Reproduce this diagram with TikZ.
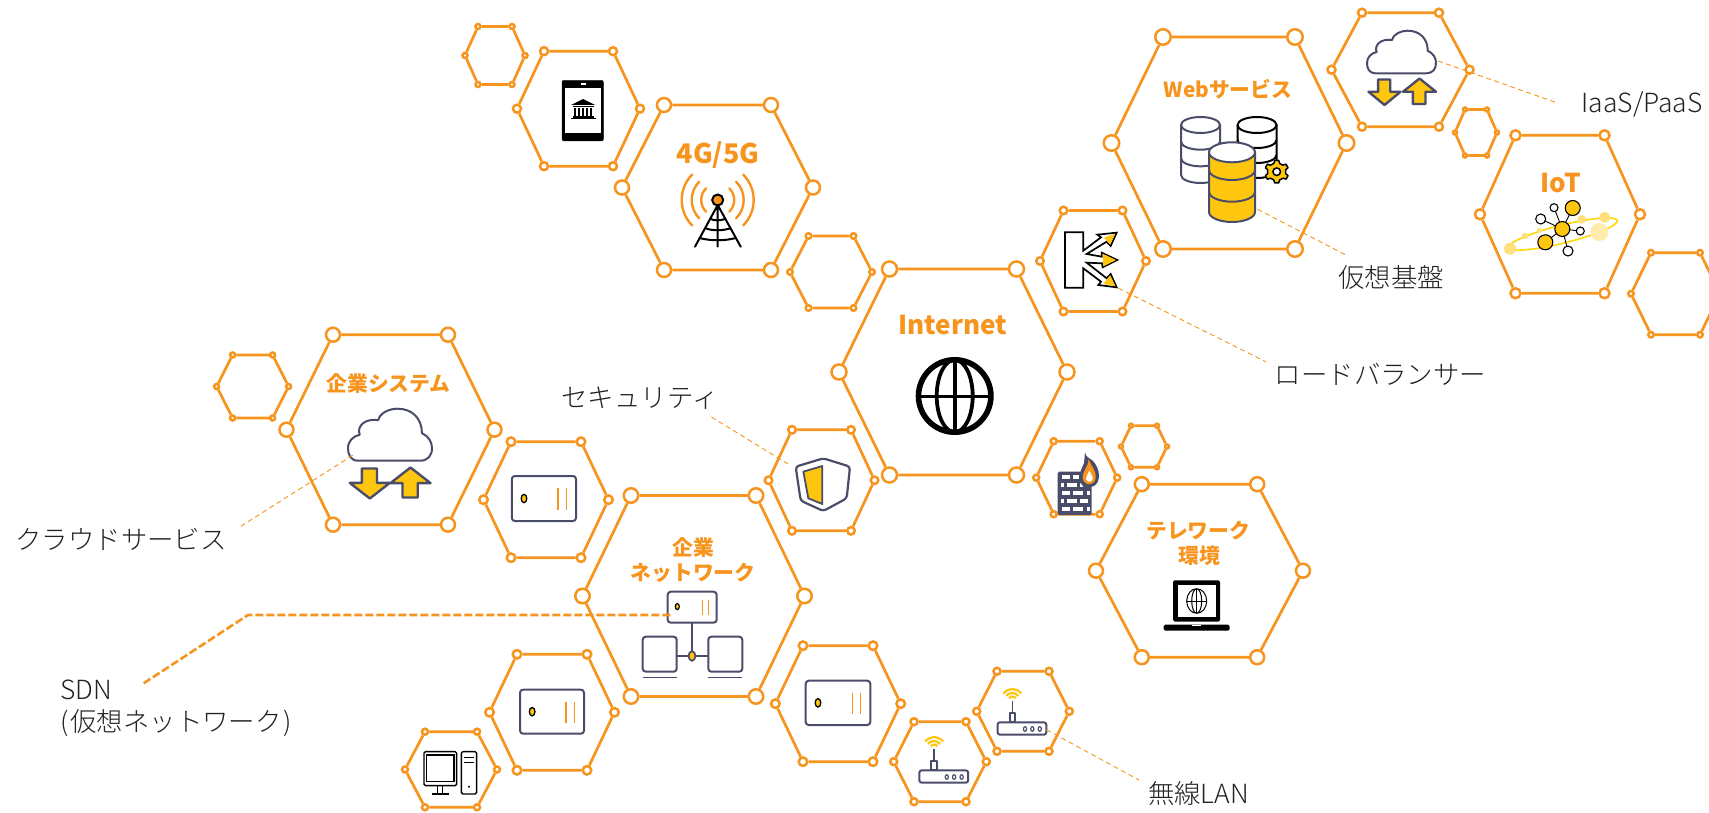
\documentclass[tikz,border=0pt]{standalone}
\usepackage{fontspec}
\setmainfont{Noto Sans CJK JP}
\newfontfamily\jplight{Noto Sans CJK JP Light}
\definecolor{hexor}{HTML}{F7941E}
\definecolor{slateb}{HTML}{4A4D69}
\definecolor{yel}{HTML}{FFC60F}
\definecolor{txtk}{HTML}{222222}
\tikzset{
  hv/.style={circle,draw=hexor,fill=white,line width=2.5pt,inner sep=0pt},
  hedge/.style={draw=hexor,line width=2.7pt},
  lead/.style={draw=hexor,line width=.9pt,dash pattern=on 5pt off 3.5pt},
  leadthick/.style={draw=hexor,line width=2.6pt,dash pattern=on 8pt off 3pt},
  lab/.style={text=txtk,inner sep=0pt,font=\jplight\fontsize{26.4}{31}\selectfont},
  head/.style={text=hexor,inner sep=0pt,align=center,font=\bfseries\fontsize{20.8}{26}\selectfont},
  headb/.style={text=hexor,inner sep=0pt,font=\bfseries\fontsize{26}{30}\selectfont},
  zoomed/.style={x=.33333pt,y=-.33333pt},
  sl/.style={draw=slateb,line width=2pt,line join=round},
}
% id, cx, cy, half width, half top, half height, vertex diameter
\newcommand\hexa[7]{%
  \node[hv,minimum size=#7pt] (#1a) at ({#2-#4},#3) {};
  \node[hv,minimum size=#7pt] (#1b) at ({#2-#5},{#3-#6}) {};
  \node[hv,minimum size=#7pt] (#1c) at ({#2+#5},{#3-#6}) {};
  \node[hv,minimum size=#7pt] (#1d) at ({#2+#4},#3) {};
  \node[hv,minimum size=#7pt] (#1e) at ({#2+#5},{#3+#6}) {};
  \node[hv,minimum size=#7pt] (#1f) at ({#2-#5},{#3+#6}) {};
  \draw[hedge] (#1a)--(#1b) (#1b)--(#1c) (#1c)--(#1d) (#1d)--(#1e) (#1e)--(#1f) (#1f)--(#1a);
}
% cloud: x0 y0 w h
\newcommand\cloudico[4]{%
  \begin{scope}[shift={(#1,#2)},x=#3pt,y=-#4pt]
  \draw[sl,fill=white] (.12,1) .. controls (.03,1) and (0,.88) .. (0,.76)
    .. controls (0,.62) and (.06,.53) .. (.14,.5)
    .. controls (.1,.34) and (.2,.18) .. (.36,.22)
    .. controls (.38,.08) and (.49,0) .. (.59,0)
    .. controls (.76,0) and (.88,.18) .. (.88,.47)
    .. controls (.96,.53) and (1,.64) .. (1,.76)
    .. controls (1,.9) and (.95,1) .. (.86,1) -- cycle;
  \end{scope}}
% arrow down: x0 y0 w h
\newcommand\darrow[4]{%
  \begin{scope}[shift={(#1,#2)},x=#3pt,y=-#4pt]
  \draw[sl,line width=2.4pt,fill=yel] (.3,0)--(.68,0)--(.68,.48)--(1,.48)--(.5,1)--(0,.48)--(.3,.48)--cycle;
  \end{scope}}
\newcommand\uarrow[4]{%
  \begin{scope}[shift={(#1,#2)},x=#3pt,y=-#4pt]
  \draw[sl,line width=2.4pt,fill=yel] (.3,1)--(.68,1)--(.68,.52)--(1,.52)--(.5,0)--(0,.52)--(.3,.52)--cycle;
  \end{scope}}
% server: x0 y0 w h
\newcommand\serverico[4]{%
  \begin{scope}[shift={(#1,#2)},x=#3pt,y=-#4pt]
  \draw[sl,rounded corners=3pt,fill=white] (0,0) rectangle (1,1);
  \draw[black,line width=1.3pt,fill=yel] (.19,.5) ellipse[x radius=2.8pt,y radius=4.2pt];
  \draw[hexor,line width=1.3pt] (.72,.27)--(.72,.76) (.85,.27)--(.85,.76);
  \end{scope}}
% router: dx dy
\newcommand\routerico[2]{%
  \begin{scope}[shift={(#1,#2)}]
  \draw[slateb,line width=1.6pt] (1012.3,713)--(1012.3,700.5);
  \draw[sl,fill=white] (1009.6,713) rectangle (1015,722.3);
  \draw[sl,rounded corners=2.5pt,fill=white] (997.5,722.3) rectangle (1046.4,734.7);
  \foreach \dx in {1025,1032.3,1039.8} \draw[slateb,line width=1.2pt,fill=white] (\dx,729) ellipse[x radius=1.6pt,y radius=2.3pt];
  \foreach \rr in {4.5,8,11.8} \draw[yel,line width=2.2pt] (1012.3,701) ++(40:\rr pt) arc[start angle=40,end angle=140,radius=\rr pt];
  \end{scope}}
\begin{document}
\begin{tikzpicture}[x=1pt,y=-1pt]
\useasboundingbox (0,0) rectangle (1709,813);
\clip (0,0) rectangle (1709,813);
\fill[white] (0,0) rectangle (1709,813);
% hexagons
\hexa{sa}{495}{55.5}{30}{17}{29}{5}
\hexa{tab}{578.5}{108.7}{61.5}{34.5}{57.5}{8}
\hexa{fg}{717.5}{187.5}{95.5}{53.5}{82.5}{14}
\hexa{sb}{831}{272}{41}{22.5}{36}{5.5}
\hexa{inet}{953}{372}{114}{63.5}{103}{15}
\hexa{lb}{1093}{261}{53}{29.5}{50.5}{7.5}
\hexa{web}{1229}{143}{117.5}{66}{106}{15.5}
\hexa{iaas}{1400.5}{69.7}{69}{38.5}{57}{8}
\hexa{sc}{1476}{132.5}{21}{11}{23}{4}
\hexa{iot}{1560}{214.3}{80}{44.5}{79}{10}
\hexa{sd}{1675.5}{293.7}{44.5}{24.5}{41}{5.5}
\hexa{se}{252.6}{386.5}{36}{20}{31.5}{5}
\hexa{sys}{390.5}{429.7}{104}{57.5}{95}{14}
\hexa{srvA}{546}{499.7}{62.5}{35}{58}{8.5}
\hexa{net}{693.5}{596}{111}{62.5}{100.5}{14.5}
\hexa{sec}{821.5}{480.3}{53}{29.5}{50.5}{7.5}
\hexa{fw}{1076.7}{477.7}{40.5}{23}{36.5}{6}
\hexa{sf}{1144}{446.5}{23}{13}{20.8}{4}
\hexa{tele}{1199.5}{570.7}{103.5}{57.7}{86.5}{14}
\hexa{srvB}{552}{712.3}{62.5}{35}{58}{8.5}
\hexa{pc}{451}{769.5}{46}{26}{37.8}{6}
\hexa{srvC}{838}{703.7}{62.7}{35}{58}{8.5}
\hexa{wa}{940}{761.7}{46.3}{26}{40}{7}
\hexa{wb}{1023}{711.3}{46.3}{26}{40}{7}
% tablet
\draw[black,fill=black,rounded corners=2pt] (562,80.3) rectangle (603.4,141);
\fill[white] (565,88) rectangle (601,133.3);
\fill[white] (580.5,83.3) rectangle (585.5,85);
\fill[black] (583,99)--(595,105)--(571,105)--cycle;
\fill[black] (572.5,105.8) rectangle (593.5,107.3);
\foreach \xx in {574,578,582,586,590} \fill[black] (\xx,107.8) rectangle (\xx+2.2,116);
\fill[black] (572.5,116.5) rectangle (593.5,117.6);
\fill[black] (570.5,117.9) rectangle (596,119.2);
% tower
\foreach \rr in {16.5,26,36} {
  \draw[hexor,line width=2.4pt,line cap=round] (717.7,200) ++(45:\rr pt) arc[start angle=45,end angle=-45,radius=\rr pt];
  \draw[hexor,line width=2.4pt,line cap=round] (717.7,200) ++(135:\rr pt) arc[start angle=135,end angle=225,radius=\rr pt];
}
\draw[black,line width=2pt,line cap=round] (717.7,205)--(695,246.7) (717.7,205)--(740.7,246.7) (717.7,205)--(717.7,246.7);
\draw[black,line width=2pt] (709.5,218.5) .. controls (714,221) and (721,221) .. (726,218.5)
  (704.7,228) .. controls (712,231) and (723,231) .. (731,228)
  (699.7,238) .. controls (710,241) and (725,241) .. (735.7,238);
\draw[black,line width=2pt,fill=hexor] (717.7,200) circle[radius=5.5pt];
% globe
\draw[black,line width=5.6pt] (954.7,396) circle[radius=36.2pt];
\draw[black,line width=3.8pt] (954.7,396) ellipse[x radius=18pt,y radius=36.2pt];
\draw[black,line width=3.8pt] (954.7,359.5)--(954.7,432.5) (918.2,396.5)--(991.2,396.5);
% load balancer
\begin{scope}[shift={(1040,210)},zoomed]
\draw[black,line width=1.7pt,fill=white,line join=miter] (75,67)--(130,67)--(130,122)--(183,82)--(172,74)--(230,68)--(212,108)--(200,95)--(140,132)--(185,140)--(185,128)--(232,150)--(188,172)--(186,160)--(140,158)--(200,205)--(212,192)--(230,232)--(175,225)--(183,215)--(130,175)--(130,233)--(75,233)--cycle;
\fill[yel] (192,83)--(226,71)--(210,104)--cycle;
\fill[yel] (188,131)--(228,150)--(190,169)--cycle;
\fill[yel] (210,196)--(227,229)--(190,222)--cycle;
\end{scope}
% web databases
\newcommand\dbcyl[6]{% x center, top cy, rx, ry, bottom cy, colour
  \draw[#6,line width=2pt,fill=white] (#1-#3,#2)--(#1-#3,#5) arc[start angle=180,end angle=360,x radius=#3pt,y radius=#4pt]--(#1+#3,#2);
  \draw[#6,line width=2pt] ({#1-#3},{#2+(#5-#2)/3}) arc[start angle=180,end angle=360,x radius=#3pt,y radius=#4pt];
  \draw[#6,line width=2pt] ({#1-#3},{#2+2*(#5-#2)/3}) arc[start angle=180,end angle=360,x radius=#3pt,y radius=#4pt];
  \draw[#6,line width=2pt,fill=white] (#1,#2) ellipse[x radius=#3pt,y radius=#4pt];
}
\dbcyl{1200.5}{125}{19.5}{8}{175}{slateb}
\dbcyl{1257}{125}{19.5}{8}{170}{black}
\fill[yel] (1209,152.3) rectangle (1255,212) (1232,212) ellipse[x radius=23pt,y radius=10pt];
\draw[slateb,line width=2pt] (1209,152.3)--(1209,212) arc[start angle=180,end angle=360,x radius=23pt,y radius=10pt]--(1255,152.3);
\draw[slateb,line width=2pt] (1209,170) arc[start angle=180,end angle=360,x radius=23pt,y radius=10pt];
\draw[slateb,line width=2pt] (1209,191.7) arc[start angle=180,end angle=360,x radius=23pt,y radius=10pt];
\draw[slateb,line width=2pt,fill=white] (1232,152.3) ellipse[x radius=23pt,y radius=10pt];
% gear
\draw[black,line width=1.5pt,fill=yel,line join=round]
  (1274.7,160.5)--(1278.7,160.5)--(1279.7,163.5)--(1283,165.2)--(1286,164.2)--(1288,167.7)--(1285.7,169.8)--(1285.7,173.6)--(1288,175.7)--(1286,179.2)--(1283,178.2)--(1279.7,179.9)--(1278.7,182.9)--(1274.7,182.9)--(1273.7,179.9)--(1270.4,178.2)--(1267.4,179.2)--(1265.4,175.7)--(1267.7,173.6)--(1267.7,169.8)--(1265.4,167.7)--(1267.4,164.2)--(1270.4,165.2)--(1273.7,163.5)--cycle;
\draw[black,line width=1.5pt,fill=white] (1276.7,171.7) circle[radius=3.8pt];
% iaas
\cloudico{1367}{30.7}{69}{42.6}
\darrow{1368.5}{79.5}{32}{25.5}
\uarrow{1403}{78.5}{33}{25.5}
% iot
\begin{scope}[shift={(1563,234)},rotate=14]
\draw[yel!70!yellow,line width=1.6pt] (0,0) ellipse[x radius=56pt,y radius=9pt];
\end{scope}
\fill[yel!55!white] (1510,248.7) circle[radius=6pt] (1525,236) circle[radius=3.3pt] (1539.3,230.3) circle[radius=2.5pt] (1581.7,219.3) circle[radius=4.3pt] (1604.7,217.3) circle[radius=5.5pt];
\fill[yel!35!white] (1599.3,232) circle[radius=9pt];
\draw[black,line width=.9pt] (1562.3,229)--(1572.7,208) (1562.3,229)--(1545.3,242.3) (1562.3,229)--(1540.7,219) (1562.3,229)--(1554,207.7) (1562.3,229)--(1580.3,231) (1562.3,229)--(1568,251);
\draw[black,line width=1.1pt,fill=yel] (1562.3,229) circle[radius=7.5pt] (1572.7,208) circle[radius=7.5pt] (1545.3,242.3) circle[radius=7.5pt];
\draw[black,line width=1.1pt,fill=white] (1540.7,219) circle[radius=5pt] (1554,207.7) circle[radius=4pt] (1580.3,231) circle[radius=4pt] (1568,251) circle[radius=5pt];
% enterprise cloud
\cloudico{348}{408.7}{84}{52}
\darrow{349.8}{468.5}{40}{30}
\uarrow{390.5}{467.5}{40}{30}
% servers
\serverico{511.8}{476}{64.2}{45}
\serverico{520}{689.7}{64}{44}
\serverico{805.7}{680.7}{64.6}{44.3}
% sdn
\draw[slateb,line width=1.7pt] (692,622.7)--(692,656) (676.7,656)--(708.3,656);
\draw[sl,rounded corners=3pt,fill=white] (642.7,636.7) rectangle (676.7,671.7);
\draw[sl,rounded corners=3pt,fill=white] (708.3,636.7) rectangle (742.3,671.7);
\draw[slateb,line width=1.4pt] (642.7,677.7)--(676.7,677.7) (708.3,677.7)--(742.3,677.7);
\draw[slateb,line width=1.7pt,fill=yel] (692,656) ellipse[x radius=3.4pt,y radius=4.8pt];
\begin{scope}[shift={(667.7,591.7)},x=49pt,y=-31pt]
\draw[sl,rounded corners=3pt,fill=white] (0,0) rectangle (1,1);
\draw[black,line width=1.2pt,fill=yel] (.196,.48) ellipse[x radius=2pt,y radius=3pt];
\draw[hexor,line width=1.2pt] (.715,.27)--(.715,.75) (.837,.27)--(.837,.75);
\end{scope}
% shield
\begin{scope}[shift={(780,430)},zoomed]
\draw[slateb,line width=2.2pt,rounded corners=3pt,line join=round] (47,110)--(130,85)--(210,110)--(200,205)--(130,243)--(62,212)--cycle;
\draw[slateb,line width=1.8pt,fill=yel,line join=round] (70,125)--(127,108)--(127,222)--(85,205)--cycle;
\end{scope}
% firewall
\begin{scope}[shift={(1040,440)},zoomed]
\fill[slateb,rounded corners=1.5pt] (53,95) rectangle (155,225);
\foreach \xa/\xb/\ya in {65/90/105,100/118/105,62/72/129,82/110/129,120/128/129,65/90/153,100/130/153,140/150/153,62/72/177,82/110/177,120/145/177,65/90/201,100/130/201,140/150/201} \fill[white] (\xa,\ya) rectangle (\xb,\ya+11);
\fill[slateb] (135,38) .. controls (138,52) and (150,55) .. (158,62) .. controls (176,80) and (182,110) .. (172,128) .. controls (160,146) and (135,148) .. (122,130) .. controls (112,108) and (125,85) .. (132,70) -- cycle;
\fill[hexor] (146,58) .. controls (152,75) and (170,95) .. (167,113) .. controls (165,138) and (130,140) .. (128,112) .. controls (128,92) and (146,78) .. (146,58) -- cycle;
\fill[white] (148,92) .. controls (150,100) and (159,108) .. (158,116) .. controls (156,128) and (140,128) .. (138,116) .. controls (138,108) and (146,100) .. (148,92) -- cycle;
\end{scope}
% laptop
\fill[black,rounded corners=1.5pt] (1173,580.3) rectangle (1220,621.5);
\fill[white] (1177.5,585.3) rectangle (1216,617);
\fill[black,rounded corners=1.5pt] (1163.7,624.7) rectangle (1229.6,630.7);
\fill[white] (1192,624.7) rectangle (1201,626);
\draw[black,line width=1pt] (1196.7,601) ellipse[x radius=10pt,y radius=12.3pt] (1196.7,601) ellipse[x radius=5pt,y radius=12.3pt];
\draw[black,line width=1pt] (1196.7,588.7)--(1196.7,613.3) (1186.7,601)--(1206.7,601);
% pc
\begin{scope}[shift={(400,720)},zoomed]
\draw[black,line width=1.4pt,rounded corners=1.5pt,fill=white] (72,95) rectangle (170,197);
\draw[black,line width=1.2pt] (80,105) rectangle (162,185);
\draw[black,line width=1.2pt] (112,197)--(112,222) (128,197)--(128,222);
\draw[black,line width=1.4pt] (97,222)--(147,222);
\draw[black,line width=1.4pt,rounded corners=1.5pt,fill=white] (184,95) rectangle (230,222);
\draw[black,line width=1.6pt] (192,113)--(222,113) (192,128)--(222,128);
\fill[black] (207,200) circle[radius=1.1pt];
\end{scope}
% routers
\routerico{0}{0}
\routerico{-78.2}{48}
% leaders
\coordinate (iaasA) at (1438,61); \coordinate (iaasB) at (1557.5,103);
\coordinate (vmA) at (1257.5,209.3); \coordinate (vmB) at (1346,255);
\coordinate (lbA) at (1118.6,288.3); \coordinate (lbB) at (1265.8,361.7);
\coordinate (secA) at (711.4,417); \coordinate (secB) at (788,464);
\coordinate (cldA) at (352.7,455.3); \coordinate (cldB) at (238.6,527.7);
\coordinate (wlA) at (1046.4,729.7); \coordinate (wlB) at (1139,780);
\coordinate (sdnA) at (670.3,615); \coordinate (sdnB) at (248,615); \coordinate (sdnC) at (141.5,684.7);
\draw[lead] (iaasA)--(iaasB);
\draw[lead] (vmA)--(vmB);
\draw[lead] (lbA)--(lbB);
\draw[lead] (secA)--(secB);
\draw[lead] (cldA)--(cldB);
\draw[lead] (wlA)--(wlB);
\draw[leadthick] (sdnA)--(sdnB)--(sdnC);
% headings
\node[headb,font=\bfseries\fontsize{27}{30}\selectfont] (tfg) at (718,155) {4G/5G};
\node[headb] (tinet) at (953,325) {Internet};
\node[head] (tweb) at (1228,89) {Webサービス};
\node[headb] (tiot) at (1560.5,183) {IoT};
\node[head] (tsys) at (388.5,383.5) {企業システム};
\node[head] (tnet1) at (693,547.5) {企業};
\node[head] (tnet2) at (693,573) {ネットワーク};
\node[head] (ttel1) at (1198.2,530.7) {テレワーク};
\node[head] (ttel2) at (1199.5,556) {環境};
% labels
\node[lab] (liaas) at (1642,104.5) {IaaS/PaaS};
\node[lab] (lvm) at (1391,277) {仮想基盤};
\node[lab] (llb) at (1380.5,374) {ロードバランサー};
\node[lab] (lsec) at (640,398) {セキュリティ};
\node[lab] (lcld) at (121,539.5) {クラウドサービス};
\node[lab,anchor=west] (lsdn1) at (60,690) {SDN};
\node[lab,anchor=west] (lsdn2) at (60,723.5) {(\kern2pt 仮想ネットワーク\kern2pt )};
\node[lab] (lwl) at (1198.5,793) {無線LAN};
\end{tikzpicture}
\end{document}
